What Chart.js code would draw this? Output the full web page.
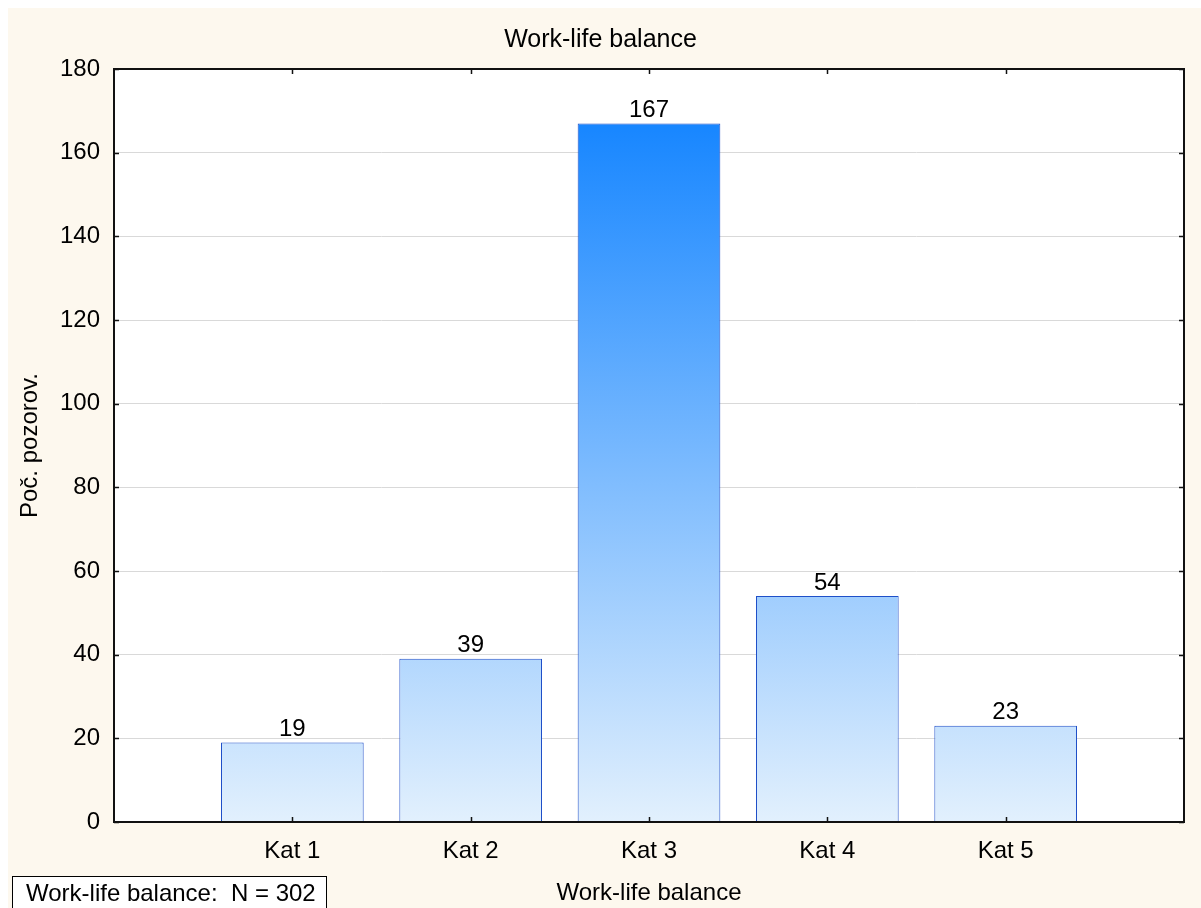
<!DOCTYPE html>
<html>
<head>
<meta charset="utf-8">
<script src="https://cdn.jsdelivr.net/npm/chart.js@4/dist/chart.umd.min.js"></script>
<style>
  html, body { margin: 0; padding: 0; background: #ffffff; }
  #wrap { width: 1201px; height: 908px; position: relative; }
</style>
</head>
<body>
<div id="wrap"><canvas id="c" width="1201" height="908"></canvas></div>
<script>
const chartTitle = 'Work-life balance';
const xTitle = 'Work-life balance';
const yTitle = 'Poč. pozorov.';
const categories = ['Kat 1', 'Kat 2', 'Kat 3', 'Kat 4', 'Kat 5'];
const counts = [19, 39, 167, 54, 23];
const yTicksMin = 0, yTicksMax = 180, yTicksStep = 20;
const noteText = 'Work-life balance:  N = 302';

const labels = [''].concat(categories, ['']);
const data = [null].concat(counts, [null]);
const FONT = '"Liberation Sans", Arial, sans-serif';
const FS = 24;
const FS_TITLE = 25;

const bgPlugin = {
  id: 'bg',
  beforeDraw(chart) {
    const c = chart.ctx, a = chart.chartArea;
    c.save();
    c.fillStyle = '#ffffff';
    c.fillRect(0, 0, chart.width, chart.height);
    c.fillStyle = '#fdf8ee';
    c.fillRect(8, 8, chart.width - 8, chart.height - 8);
    c.fillStyle = '#ffffff';
    c.fillRect(a.left, a.top, a.right - a.left, a.bottom - a.top);
    c.restore();
  },
  afterDraw(chart) {
    const c = chart.ctx, a = chart.chartArea;
    const xs = chart.scales.x, ys = chart.scales.y;
    c.save();
    // frame
    c.strokeStyle = '#111111';
    c.lineWidth = 2;
    c.strokeRect(a.left, a.top, a.right - a.left, a.bottom - a.top);
    // inward ticks
    c.lineWidth = 1.5;
    c.beginPath();
    for (let i = 1; i <= categories.length; i++) {
      const x = Math.round(xs.getPixelForTick(i)) + 0.5;
      c.moveTo(x, a.bottom); c.lineTo(x, a.bottom - 5);
      c.moveTo(x, a.top); c.lineTo(x, a.top + 5);
    }
    for (let v = yTicksMin; v <= yTicksMax; v += yTicksStep) {
      const y = Math.round(ys.getPixelForValue(v)) + 0.5;
      c.moveTo(a.left, y); c.lineTo(a.left + 5, y);
      c.moveTo(a.right, y); c.lineTo(a.right - 5, y);
    }
    c.stroke();
    // value labels
    const meta = chart.getDatasetMeta(0);
    c.fillStyle = '#000000';
    c.font = FS + 'px ' + FONT;
    c.textAlign = 'center';
    c.textBaseline = 'bottom';
    meta.data.forEach((bar, i) => {
      const v = data[i];
      if (v === null || v === undefined) return;
      c.fillText(String(v), bar.x, bar.y - 1);
    });
    // note box
    c.fillStyle = '#ffffff';
    c.fillRect(12, 876, 314, 40);
    c.strokeStyle = '#000000';
    c.lineWidth = 1;
    c.strokeRect(12.5, 876.5, 314, 40);
    c.fillStyle = '#000000';
    c.textAlign = 'left';
    c.textBaseline = 'middle';
    c.fillText(noteText, 26, 894);
    c.restore();
  }
};

function barGradient(context) {
  const chart = context.chart;
  const ys = chart.scales.y;
  if (!ys || !chart.chartArea) return '#8fc3fb';
  const maxV = Math.max.apply(null, counts);
  const g = chart.ctx.createLinearGradient(0, ys.getPixelForValue(maxV), 0, ys.getPixelForValue(0));
  g.addColorStop(0, '#1786ff');
  g.addColorStop(1, '#e2f0fd');
  return g;
}

new Chart(document.getElementById('c'), {
  type: 'bar',
  data: {
    labels: labels,
    datasets: [{
      data: data,
      backgroundColor: barGradient,
      borderColor: '#1f4fc8',
      borderWidth: 1,
      borderSkipped: 'bottom',
      categoryPercentage: 0.8,
      barPercentage: 1.0
    }]
  },
  options: {
    responsive: false,
    animation: false,
    devicePixelRatio: 1,
    layout: { padding: { left: 0, right: 0, top: 0, bottom: 0 } },
    plugins: {
      legend: { display: false },
      tooltip: { enabled: false },
      title: {
        display: true,
        text: chartTitle,
        color: '#000000',
        font: { family: FONT, size: FS_TITLE, weight: 'normal', lineHeight: 1.2 },
        padding: { top: 25, bottom: 14 }
      }
    },
    scales: {
      x: {
        type: 'category',
        offset: false,
        grid: { display: false, drawTicks: false },
        border: { display: false },
        ticks: {
          color: '#000000',
          font: { family: FONT, size: FS },
          padding: 15,
          maxRotation: 0,
          autoSkip: false
        },
        title: {
          display: true,
          text: xTitle,
          color: '#000000',
          font: { family: FONT, size: FS, lineHeight: 1.2 },
          padding: { top: 0, bottom: 0 }
        },
        afterFit(scale) { scale.height = 86; }
      },
      y: {
        min: yTicksMin,
        max: yTicksMax,
        grid: { color: '#d9d9d9', lineWidth: 1, drawTicks: false },
        border: { display: false },
        ticks: {
          stepSize: yTicksStep,
          color: '#000000',
          font: { family: FONT, size: FS },
          padding: 14
        },
        title: {
          display: true,
          text: yTitle,
          color: '#000000',
          font: { family: FONT, size: FS, lineHeight: 1.2 },
          padding: { top: 16, bottom: 0 }
        },
        afterFit(scale) { scale.width = 114; }
      },
      yRight: {
        position: 'right',
        display: true,
        min: yTicksMin,
        max: yTicksMax,
        grid: { display: false, drawTicks: false },
        border: { display: false },
        ticks: { display: false },
        afterFit(scale) { scale.width = 17; }
      }
    }
  },
  plugins: [bgPlugin]
});
</script>
</body>
</html>
